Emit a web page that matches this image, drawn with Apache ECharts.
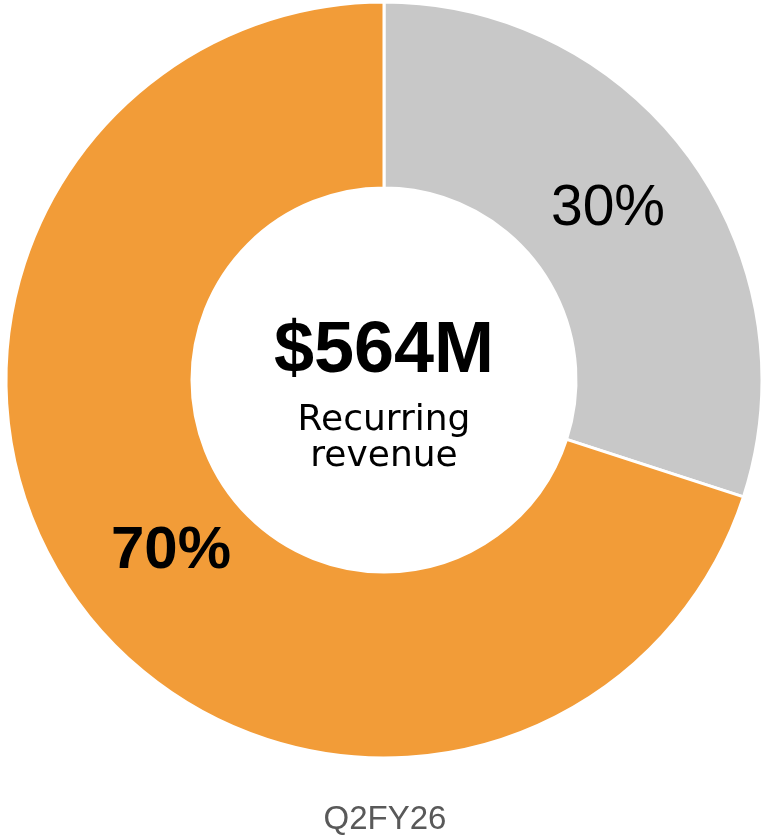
<!DOCTYPE html>
<html>
<head>
<meta charset="utf-8">
<style>html,body{margin:0;padding:0;background:#fff;}#c{width:768px;height:840px;}</style>
<script src="https://cdn.jsdelivr.net/npm/echarts@6/dist/echarts.min.js"></script>
</head>
<body>
<div id="c"></div>
<script>
var categories = ['Other', 'Recurring'];
var values = [30, 70];
var labelTexts = ['30%', '70%'];
var centerValue = '$564M';
var centerCaption = ['Recurring', 'revenue'];
var periodLabel = 'Q2FY26';

var colors = ['#C8C8C8', '#F29C38'];
var labelOffsets = [[-9, -1], [20, 2]];
var chart = echarts.init(document.getElementById('c'), null, {renderer: 'canvas'});
var data = categories.map(function (c, i) {
  return {
    name: c,
    value: values[i],
    itemStyle: {color: colors[i]},
    label: {
      formatter: labelTexts[i],
      fontWeight: i === 1 ? 'bold' : 'normal',
      fontSize: i === 1 ? 60 : 57,
      offset: labelOffsets[i]
    }
  };
});
chart.setOption({
  animation: false,
  series: [{
    type: 'pie',
    center: [384, 380],
    radius: [192, 378],
    startAngle: 90,
    clockwise: true,
    silent: true,
    itemStyle: {borderColor: '#ffffff', borderWidth: 3},
    label: {
      show: true,
      position: 'inside',
      color: '#000',
      fontFamily: 'Liberation Sans, Arial, sans-serif'
    },
    labelLine: {show: false},
    data: data
  }],
  graphic: [
    {type: 'text', x: 384, y: 352, style: {text: centerValue, fill: '#000', font: 'bold 72px "Liberation Sans", Arial, sans-serif', textAlign: 'center', textVerticalAlign: 'middle'}},
    {type: 'text', x: 384, y: 421, style: {text: centerCaption[0], fill: '#000', font: '36px "DejaVu Sans", sans-serif', textAlign: 'center', textVerticalAlign: 'middle'}},
    {type: 'text', x: 384, y: 457, style: {text: centerCaption[1], fill: '#000', font: '36px "DejaVu Sans", sans-serif', textAlign: 'center', textVerticalAlign: 'middle'}},
    {type: 'text', x: 385, y: 820, style: {text: periodLabel, fill: '#595959', font: '33px "Liberation Sans", Arial, sans-serif', textAlign: 'center', textVerticalAlign: 'middle'}}
  ]
});
</script>
</body>
</html>
